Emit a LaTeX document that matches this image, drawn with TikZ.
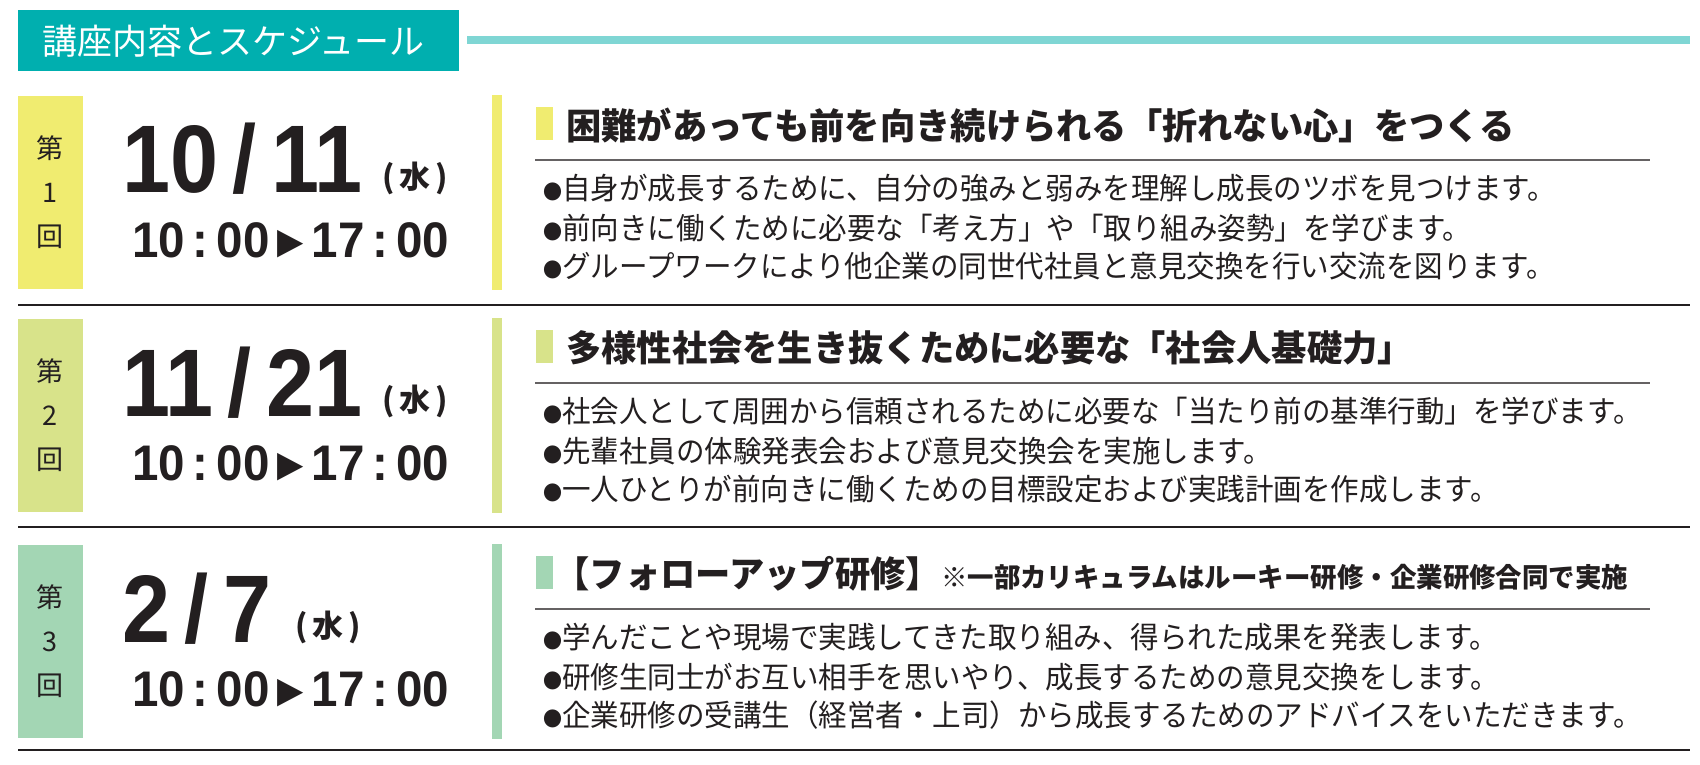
\documentclass[tikz,border=0pt]{standalone}
\usepackage{fontspec}
\setmainfont{Noto Sans CJK JP}
\newfontfamily\djv{DejaVu Sans}
\newfontfamily\lib{Liberation Sans}
\definecolor{teal1}{HTML}{00AFAF}
\definecolor{teal2}{HTML}{7FD6D4}
\definecolor{cA}{HTML}{F0EC70}
\definecolor{cB}{HTML}{D8E38A}
\definecolor{cC}{HTML}{A3D6B4}
\definecolor{ink}{HTML}{231F20}
\newcommand{\bdot}{{\fontsize{20}{20}\selectfont●}}
\tikzset{
 lab/.style={font=\fontsize{27}{27}\selectfont,text=ink,inner sep=0},
 datef/.style={font=\lib\fontsize{96}{96}\selectfont\bfseries,text=ink,inner sep=0,anchor=base west,xscale=0.9},
 dowf/.style={font=\fontsize{31}{31}\selectfont\bfseries,text=ink,inner sep=0,anchor=base west},
 timef/.style={font=\lib\fontsize{50}{50}\selectfont\bfseries,text=ink,inner sep=0,anchor=base west,xscale=0.95},
 titf/.style={font=\fontsize{36}{36}\selectfont\bfseries,text=ink,inner sep=0,anchor=west,xscale=0.98},
 bulf/.style={font=\fontsize{30}{30}\selectfont,text=ink,inner sep=0,anchor=west,xscale=0.95},
}
\newcommand{\schedrow}[9]{%
 \fill[#2] (18,#1+96) rectangle (83,#1+289);
 \node[lab] (n1#3) at (50,#1+148) {第};
 \node[lab] (n2#3) at (50,#1+193) {#3};
 \node[lab] (n3#3) at (50,#1+237) {回};
 \node[datef] (d#3) at (122,#1+193) {#4};
 \node[dowf] (w#3) at (#5,#1+188) {(\,水\,)};
 \node[timef] (t#3) at (132,#1+257) {10\,:\,00\,\raisebox{4pt}{\djv\fontsize{36}{36}\selectfont ▶}\,17\,:\,00};
 \fill[#2] (492,#1+95) rectangle (502,#1+290);
 \fill[#2] (536,#1+107) rectangle (553,#1+140);
 \node[titf] (h#3) at (566,#1+125) {#6};
 \draw[ink!70,line width=1.2] (535,#1+160) -- (1650,#1+160);
 \node[bulf] (b1#3) at (543,#1+188) {\bdot#7};
 \node[bulf] (b2#3) at (543,#1+228) {\bdot#8};
 \node[bulf] (b3#3) at (543,#1+266) {\bdot#9};
}
\begin{document}
\begin{tikzpicture}[x=1pt,y=-1pt]
\useasboundingbox (0,0) rectangle (1700,765);
\fill[white] (0,0) rectangle (1700,765);
\fill[teal1] (18,10) rectangle (459,71);
\node[font=\fontsize{35}{35}\selectfont,text=white,inner sep=0,anchor=west] (hd) at (42,41) {講座内容とスケジュール};
\fill[teal2] (467,36) rectangle (1690,44);
\schedrow{0}{cA}{1}{10\,/\,11}{382}{困難があっても前を向き続けられる「折れない心」をつくる}{自身が成長するために、自分の強みと弱みを理解し成長のツボを見つけます。}{前向きに働くために必要な「考え方」や「取り組み姿勢」を学びます。}{グループワークにより他企業の同世代社員と意見交換を行い交流を図ります。}
\draw[ink,line width=1.6] (18,305) -- (1690,305);
\schedrow{223}{cB}{2}{11\,/\,21}{382}{多様性社会を生き抜くために必要な「社会人基礎力」}{社会人として周囲から信頼されるために必要な「当たり前の基準行動」を学びます。}{先輩社員の体験発表会および意見交換会を実施します。}{一人ひとりが前向きに働くための目標設定および実践計画を作成します。}
\draw[ink,line width=1.6] (18,527) -- (1690,527);
\schedrow{449}{cC}{3}{2\,/\,7}{295}{\hspace{-12pt}【フォローアップ研修】{\fontsize{27}{27}\selectfont ※一部カリキュラムはルーキー研修・企業研修合同で実施}}{学んだことや現場で実践してきた取り組み、得られた成果を発表します。}{研修生同士がお互い相手を思いやり、成長するための意見交換をします。}{企業研修の受講生（経営者・上司）から成長するためのアドバイスをいただきます。}
\draw[ink,line width=1.6] (18,750) -- (1690,750);
\end{tikzpicture}
\end{document}
